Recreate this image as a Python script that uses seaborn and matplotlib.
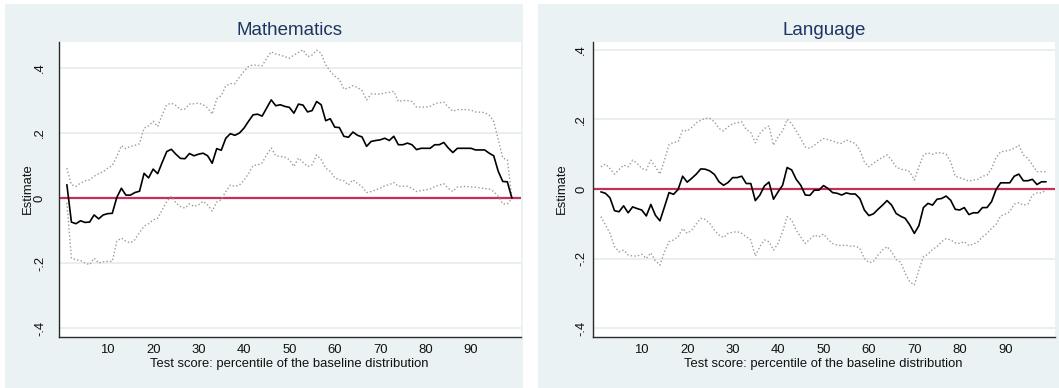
import numpy as np
import pandas as pd
import matplotlib
matplotlib.use("Agg")
import matplotlib.pyplot as plt
from matplotlib.patches import Rectangle
import seaborn as sns

# Percentile of the baseline test-score distribution
percentile = list(range(1, 100))

# Mathematics: point estimate and 95% confidence bounds
math_est = [0.041, -0.074, -0.079, -0.070, -0.075, -0.074, -0.052, -0.064, -0.052, -0.048,
            -0.047, 0.002, 0.030, 0.009, 0.009, 0.017, 0.021, 0.076, 0.062, 0.089,
            0.075, 0.110, 0.143, 0.150, 0.135, 0.122, 0.121, 0.137, 0.130, 0.135,
            0.138, 0.130, 0.107, 0.152, 0.147, 0.184, 0.198, 0.193, 0.200, 0.215,
            0.236, 0.256, 0.258, 0.252, 0.277, 0.302, 0.284, 0.287, 0.282, 0.279,
            0.261, 0.289, 0.286, 0.265, 0.269, 0.297, 0.287, 0.238, 0.244, 0.218,
            0.217, 0.190, 0.187, 0.203, 0.193, 0.188, 0.159, 0.174, 0.177, 0.179,
            0.184, 0.177, 0.190, 0.164, 0.164, 0.169, 0.164, 0.149, 0.153, 0.153,
            0.153, 0.164, 0.164, 0.171, 0.154, 0.140, 0.153, 0.153, 0.153, 0.153,
            0.148, 0.148, 0.148, 0.138, 0.130, 0.082, 0.051, 0.050, 0.000]
math_hi = [0.092, 0.041, 0.036, 0.046, 0.053, 0.056, 0.067, 0.075, 0.081, 0.092,
           0.100, 0.128, 0.161, 0.152, 0.159, 0.162, 0.167, 0.215, 0.222, 0.236,
           0.220, 0.256, 0.287, 0.292, 0.285, 0.272, 0.274, 0.289, 0.290, 0.292,
           0.287, 0.277, 0.258, 0.305, 0.315, 0.345, 0.352, 0.352, 0.372, 0.390,
           0.405, 0.410, 0.408, 0.407, 0.430, 0.450, 0.443, 0.440, 0.435, 0.430,
           0.440, 0.448, 0.456, 0.435, 0.440, 0.455, 0.445, 0.410, 0.390, 0.375,
           0.365, 0.335, 0.338, 0.346, 0.340, 0.330, 0.302, 0.320, 0.320, 0.320,
           0.323, 0.325, 0.328, 0.297, 0.300, 0.300, 0.297, 0.280, 0.280, 0.280,
           0.282, 0.290, 0.293, 0.295, 0.280, 0.267, 0.272, 0.272, 0.272, 0.270,
           0.265, 0.264, 0.263, 0.255, 0.236, 0.180, 0.123, 0.118, 0.000]
math_lo = [-0.015, -0.185, -0.190, -0.192, -0.200, -0.205, -0.185, -0.200, -0.196, -0.195,
           -0.195, -0.133, -0.123, -0.133, -0.138, -0.128, -0.106, -0.087, -0.079, -0.067,
           -0.062, -0.036, -0.010, 0.005, -0.015, -0.026, -0.031, -0.018, -0.026, -0.021,
           -0.010, -0.021, -0.040, -0.012, -0.005, 0.020, 0.040, 0.036, 0.040, 0.055,
           0.075, 0.100, 0.102, 0.108, 0.133, 0.154, 0.130, 0.128, 0.126, 0.118,
           0.097, 0.123, 0.110, 0.097, 0.102, 0.133, 0.118, 0.092, 0.082, 0.062,
           0.056, 0.053, 0.040, 0.056, 0.045, 0.035, 0.017, 0.020, 0.025, 0.030,
           0.038, 0.041, 0.048, 0.036, 0.036, 0.036, 0.030, 0.020, 0.023, 0.025,
           0.028, 0.035, 0.040, 0.044, 0.030, 0.020, 0.034, 0.035, 0.036, 0.034,
           0.033, 0.031, 0.029, 0.028, 0.020, 0.005, -0.018, -0.018, -0.002]

# Language: point estimate and 95% confidence bounds
lang_est = [-0.008, -0.012, -0.025, -0.062, -0.065, -0.048, -0.068, -0.051, -0.056, -0.060,
            -0.077, -0.044, -0.075, -0.091, -0.051, -0.010, -0.015, -0.001, 0.037, 0.020,
            0.031, 0.043, 0.058, 0.057, 0.052, 0.042, 0.021, 0.011, 0.019, 0.033,
            0.033, 0.037, 0.016, 0.016, -0.033, -0.017, 0.009, 0.020, -0.029, -0.008,
            0.011, 0.062, 0.055, 0.028, 0.011, -0.017, -0.018, -0.003, -0.003, 0.010,
            0.002, -0.010, -0.012, -0.017, -0.011, -0.014, -0.014, -0.027, -0.060, -0.076,
            -0.071, -0.058, -0.046, -0.033, -0.046, -0.070, -0.078, -0.084, -0.103, -0.127,
            -0.105, -0.053, -0.041, -0.046, -0.029, -0.027, -0.020, -0.032, -0.058, -0.060,
            -0.053, -0.073, -0.068, -0.068, -0.053, -0.053, -0.036, -0.001, 0.018, 0.018,
            0.018, 0.037, 0.043, 0.024, 0.024, 0.028, 0.013, 0.021, 0.021]
lang_hi = [0.064, 0.072, 0.059, 0.043, 0.056, 0.069, 0.064, 0.083, 0.074, 0.059,
           0.055, 0.083, 0.064, 0.043, 0.083, 0.128, 0.134, 0.136, 0.169, 0.167,
           0.177, 0.190, 0.198, 0.203, 0.203, 0.193, 0.174, 0.167, 0.179, 0.188,
           0.190, 0.193, 0.171, 0.162, 0.133, 0.160, 0.174, 0.181, 0.126, 0.150,
           0.167, 0.200, 0.188, 0.167, 0.145, 0.121, 0.117, 0.126, 0.136, 0.145,
           0.142, 0.138, 0.133, 0.131, 0.141, 0.136, 0.131, 0.112, 0.078, 0.064,
           0.074, 0.083, 0.091, 0.098, 0.083, 0.064, 0.057, 0.055, 0.050, 0.026,
           0.064, 0.098, 0.104, 0.100, 0.104, 0.104, 0.100, 0.078, 0.037, 0.033,
           0.028, 0.023, 0.026, 0.028, 0.037, 0.040, 0.059, 0.091, 0.107, 0.109,
           0.112, 0.117, 0.126, 0.098, 0.088, 0.069, 0.050, 0.050, 0.050]
lang_lo = [-0.079, -0.103, -0.127, -0.165, -0.180, -0.175, -0.189, -0.192, -0.192, -0.187,
           -0.199, -0.183, -0.206, -0.218, -0.180, -0.151, -0.146, -0.137, -0.113, -0.127,
           -0.118, -0.100, -0.084, -0.087, -0.099, -0.118, -0.132, -0.139, -0.127, -0.124,
           -0.122, -0.127, -0.137, -0.146, -0.192, -0.165, -0.146, -0.151, -0.175, -0.156,
           -0.122, -0.079, -0.089, -0.118, -0.137, -0.156, -0.144, -0.132, -0.137, -0.129,
           -0.144, -0.156, -0.161, -0.162, -0.161, -0.164, -0.163, -0.170, -0.199, -0.211,
           -0.208, -0.189, -0.175, -0.165, -0.180, -0.202, -0.210, -0.242, -0.266, -0.275,
           -0.232, -0.194, -0.187, -0.173, -0.165, -0.151, -0.142, -0.146, -0.154, -0.156,
           -0.151, -0.162, -0.158, -0.151, -0.137, -0.127, -0.113, -0.101, -0.077, -0.072,
           -0.065, -0.043, -0.039, -0.046, -0.043, -0.017, -0.011, -0.011, -0.003]

panel_titles = ["Mathematics", "Language"]
x_ticks = [10, 20, 30, 40, 50, 60, 70, 80, 90]
y_ticks = [-0.4, -0.2, 0.0, 0.2, 0.4]
y_tick_labels = ["-.4", "-.2", "0", ".2", ".4"]
x_title = "Test score: percentile of the baseline distribution"
y_title = "Estimate"

sns.set_theme(style="white")
plt.rcParams["font.family"] = ["Liberation Sans", "DejaVu Sans"]

W, H = 1059, 388
fig = plt.figure(figsize=(W / 100, H / 100), dpi=100)
fig.patch.set_facecolor("white")

REGION = "#eaf2f3"
GRID = "#e1eaed"
ZERO = "#c4305a"
CI = "#9a9a9a"
TITLE = "#1f3561"
FS = 9.4

# outer graph regions
fig.add_artist(Rectangle((5 / W, 0), (523 - 5) / W, (H - 4) / H,
                         transform=fig.transFigure, facecolor=REGION, edgecolor="none", zorder=0))
fig.add_artist(Rectangle((538 / W, 0), (W - 538) / W, (H - 4) / H,
                         transform=fig.transFigure, facecolor=REGION, edgecolor="none", zorder=0))

panels = [
    dict(left=58.7, right=520.5, ylim=(-0.426, 0.481), est=math_est, hi=math_hi, lo=math_lo, ypad=5.7),
    dict(left=592.7, right=1054.7, ylim=(-0.423, 0.423), est=lang_est, hi=lang_hi, lo=lang_lo, ypad=0.5),
]
top_px, bottom_px = 41.7, 336.5

for title, p in zip(panel_titles, panels):
    ax = fig.add_axes([p["left"] / W, 1 - bottom_px / H,
                       (p["right"] - p["left"]) / W, (bottom_px - top_px) / H])
    ax.set_facecolor("white")
    df = pd.DataFrame({"pct": percentile, "est": p["est"], "hi": p["hi"], "lo": p["lo"]})

    for yv in [-0.4, -0.2, 0.2, 0.4]:
        ax.axhline(yv, color=GRID, lw=1.1, zorder=1)
    ax.axhline(0, color=ZERO, lw=1.6, zorder=2)

    sns.lineplot(data=df, x="pct", y="hi", ax=ax, color=CI, lw=1.0,
                 linestyle=(0, (1, 1.6)), zorder=3)
    sns.lineplot(data=df, x="pct", y="lo", ax=ax, color=CI, lw=1.0,
                 linestyle=(0, (1, 1.6)), zorder=3)
    sns.lineplot(data=df, x="pct", y="est", ax=ax, color="black", lw=1.2, zorder=4)

    ax.set_xlim(-0.8, 100.9)
    ax.set_ylim(*p["ylim"])
    ax.set_xticks(x_ticks)
    ax.set_xticklabels([str(t) for t in x_ticks])
    ax.set_yticks(y_ticks)
    ax.set_yticklabels(y_tick_labels)

    for side in ["top", "right"]:
        ax.spines[side].set_visible(False)
    for side in ["left", "bottom"]:
        ax.spines[side].set_color("#2b2b2b")
        ax.spines[side].set_linewidth(1.0)

    ax.tick_params(axis="both", which="major", direction="out", length=3.5, width=0.9,
                   color="#2b2b2b", labelsize=FS, labelcolor="#111111")
    ax.tick_params(axis="x", pad=2.0)
    ax.tick_params(axis="y", pad=p["ypad"], labelrotation=90)
    for lab in ax.get_yticklabels():
        lab.set_va("center")
        lab.set_ha("right")

    ax.set_xlabel(x_title, fontsize=FS, color="#111111", labelpad=1.0)
    ax.set_ylabel(y_title, fontsize=FS, color="#111111")
    ax.yaxis.set_label_coords(-0.053, 0.5)
    ax.set_title(title, fontsize=13.5, color=TITLE, pad=5)
    ax.grid(False)

fig.savefig("out.png", dpi=100, facecolor="white")
